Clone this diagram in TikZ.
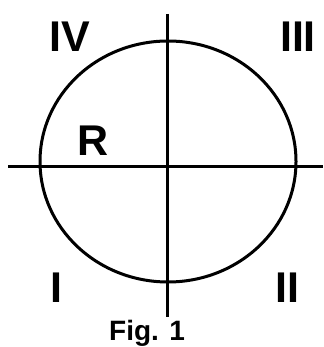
\documentclass[tikz,border=0pt]{standalone}
\usepackage{fontspec}
\setmainfont{Liberation Sans}
\usetikzlibrary{positioning}

\begin{document}
\begin{tikzpicture}[x=1pt,y=1pt,
    axis/.style={line width=3pt},
    quadrant/.style={font=\fontsize{43}{43}\selectfont\bfseries, inner sep=0pt},
    caption/.style={font=\fontsize{28}{28}\selectfont\bfseries, inner sep=0pt}]
    \def\rx{128}
    \def\ry{120.5}

    \useasboundingbox (0,0) rectangle (323,347);

    % axes
    \coordinate (top) at (167,333);
    \coordinate (bottom) at (167,30);
    \coordinate (left) at (8,180);
    \coordinate (right) at (323,180);
    \draw[axis] (top) -- (bottom);
    \draw[axis] (left) -- (right);

    % circle
    \coordinate (centre) at (168,185.5);
    \draw[axis] (centre) ellipse [x radius=\rx, y radius=\ry];

    % labels
    \node[quadrant] (q4) at (70,310) {IV};
    \node[quadrant] (q3) at (298,310) {III};
    \node[quadrant] (r) at (93,206) {R};
    \node[quadrant] (q1) at (56,59) {I};
    \node[quadrant] (q2) at (287,59) {II};
    \node[caption, anchor=base] (fig) at (147,6.5) {Fig. 1};
  \end{tikzpicture}
\end{document}
